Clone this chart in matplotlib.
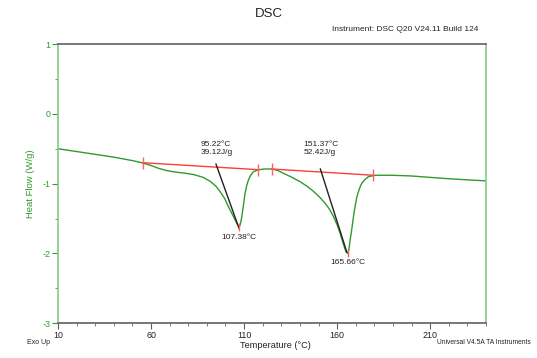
import matplotlib
matplotlib.use("Agg")
import matplotlib.pyplot as plt
from matplotlib.ticker import MultipleLocator

plt.rcParams['font.family'] = ['Liberation Sans', 'DejaVu Sans']
plt.rcParams['axes.unicode_minus'] = False

# ---- data ----
temperature = [10, 20, 30, 40, 50, 55, 60, 64, 68, 72, 78, 83, 88, 92, 95, 97, 99.5,
               101.6, 103.5, 105.2, 106.3, 107.38, 108, 108.8, 109.7, 110.5, 111.4,
               112.3, 113.5, 115, 117.7, 121, 125, 128, 131, 135, 140, 144, 147.3,
               150.5, 153.5, 156, 158, 160, 161.6, 163.3, 164.8, 165.66, 166.3, 167,
               168, 168.8, 169.7, 170.6, 172, 173.3, 175, 176.8, 180.4, 190, 200, 210,
               220, 233, 240]
heat_flow = [-0.50, -0.54, -0.58, -0.62, -0.67, -0.70, -0.74, -0.78, -0.81, -0.83, -0.85,
             -0.87, -0.91, -0.97, -1.04, -1.11, -1.21, -1.33, -1.43, -1.52, -1.58, -1.62,
             -1.58, -1.47, -1.30, -1.14, -1.03, -0.95, -0.88, -0.83, -0.80, -0.79, -0.79,
             -0.81, -0.85, -0.90, -0.97, -1.04, -1.11, -1.19, -1.28, -1.37, -1.47, -1.59,
             -1.71, -1.86, -1.98, -2.00, -1.95, -1.81, -1.63, -1.47, -1.32, -1.19, -1.07,
             -0.99, -0.94, -0.90, -0.88, -0.88, -0.89, -0.91, -0.93, -0.95, -0.96]

baseline1_T = [55.5, 117.7]
baseline1_HF = [-0.70, -0.80]
baseline2_T = [124.9, 179.5]
baseline2_HF = [-0.79, -0.88]

tangent1_T = [94.9, 107.3]
tangent1_HF = [-0.72, -1.64]
tangent2_T = [151.0, 165.2]
tangent2_HF = [-0.79, -1.98]

peak_T = [107.38, 165.66]
peak_HF = [-1.62, -2.00]

onset_labels = ["95.22°C\n39.12J/g", "151.37°C\n52.42J/g"]
onset_T = [95.22, 151.37]
onset_label_HF = [-0.60, -0.60]
peak_labels = ["107.38°C", "165.66°C"]
peak_label_HF = [-1.77, -2.13]

xticks = [10, 60, 110, 160, 210]
yticks = [1, 0, -1, -2, -3]

# ---- figure ----
fig = plt.figure(figsize=(5.37, 3.58), dpi=100)
ax = fig.add_axes([0.108, 0.097, 0.797, 0.780])

green = "#2f9a2f"
spine_green = "#88c888"
grey = "#606060"

ax.plot(temperature, heat_flow, color=green, lw=1.0)
ax.plot(baseline1_T, baseline1_HF, color="#ff3b3b", lw=1.0)
ax.plot(baseline2_T, baseline2_HF, color="#ff3b3b", lw=1.0)
ax.plot(baseline1_T, baseline1_HF, ls="none", marker="|", ms=8, mew=1.0, color="#ff6060")
ax.plot(baseline2_T, baseline2_HF, ls="none", marker="|", ms=8, mew=1.0, color="#ff6060")
ax.plot(tangent1_T, tangent1_HF, color="#222222", lw=1.0)
ax.plot(tangent2_T, tangent2_HF, color="#222222", lw=1.0)
ax.plot(peak_T, peak_HF, ls="none", marker="|", ms=6, mew=1.0, color="#ff6060")

for lab, t, hf in zip(onset_labels, onset_T, onset_label_HF):
    ax.text(t, hf, lab, fontsize=6.0, ha="center", va="bottom", color="#222222",
            linespacing=1.1, multialignment="left")
for lab, t, hf in zip(peak_labels, peak_T, peak_label_HF):
    ax.text(t, hf, lab, fontsize=6.0, ha="center", va="center", color="#222222")

ax.set_xlim(10, 240)
ax.set_ylim(-3, 1)
ax.set_xticks(xticks)
ax.set_yticks(yticks)
ax.xaxis.set_minor_locator(MultipleLocator(10))
ax.yaxis.set_minor_locator(MultipleLocator(0.5))

ax.spines["top"].set_color(grey)
ax.spines["bottom"].set_color(grey)
ax.spines["left"].set_color(spine_green)
ax.spines["right"].set_color(spine_green)
for s in ax.spines.values():
    s.set_linewidth(1.2)

ax.tick_params(axis="x", which="both", colors=grey, labelcolor="#222222",
               labelsize=6.4, direction="out", pad=1.5)
ax.tick_params(axis="x", which="major", length=4)
ax.tick_params(axis="x", which="minor", length=2)
ax.tick_params(axis="y", which="both", colors=green, labelcolor=green,
               labelsize=6.4, direction="out", pad=1.5)
ax.tick_params(axis="y", which="major", length=4)
ax.tick_params(axis="y", which="minor", length=2)

ax.set_ylabel("Heat Flow (W/g)", color=green, fontsize=6.8, labelpad=5)

fig.text(0.5, 0.961, "DSC", ha="center", va="center", fontsize=9.5, color="#222222")
fig.text(0.890, 0.918, "Instrument: DSC Q20 V24.11 Build 124", ha="right", va="center",
         fontsize=6.0, color="#222222")
fig.text(0.512, 0.036, "Temperature (°C)", ha="center", va="center", fontsize=6.6,
         color="#222222")
fig.text(0.050, 0.042, "Exo Up", ha="left", va="center", fontsize=5.0, color="#222222")
fig.text(0.989, 0.042, "Universal V4.5A TA Instruments", ha="right", va="center",
         fontsize=4.8, color="#222222")

fig.savefig("out.png", dpi=100)
